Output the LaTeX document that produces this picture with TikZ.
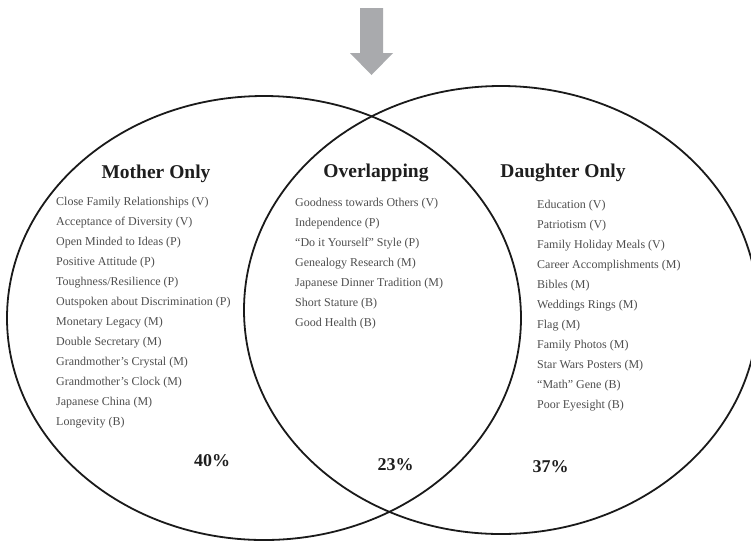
\documentclass[tikz,border=0pt]{standalone}
\usepackage{fontspec}
\setmainfont{Liberation Serif}
\usetikzlibrary{shapes.geometric}
\definecolor{linec}{HTML}{1A1A1A}
\definecolor{itemc}{HTML}{4E4E4E}
\definecolor{headc}{HTML}{1E1E1E}
\definecolor{arrowc}{HTML}{A9AAAD}
\tikzset{
  venn/.style={ellipse, draw=linec, line width=1.8pt, inner sep=0pt},
  head/.style={anchor=base, text=headc, font=\fontsize{19.5}{22}\selectfont\bfseries, inner sep=0pt},
  item/.style={anchor=base west, text=itemc, font=\fontsize{12}{14}\selectfont, inner sep=0pt},
  pct/.style={anchor=base, text=headc, font=\fontsize{18}{20}\selectfont\bfseries, inner sep=0pt}
}
\begin{document}
\begin{tikzpicture}[x=1pt,y=-1pt]
\clip (0,0) rectangle (751,542);
\fill[white] (0,0) rectangle (751,542);
% arrow
\fill[arrowc] (360,8) -- (383,8) -- (383,53) -- (393,53) -- (371.5,75) -- (350,53) -- (360,53) -- cycle;
% ellipses
\node[venn, minimum width=514pt, minimum height=444pt] (mom) at (264,318) {};
\node[venn, minimum width=514pt, minimum height=448pt] (dau) at (501,310) {};
% headers
\node[head] (hm) at (156,178) {Mother Only};
\node[head] (ho) at (376,177) {Overlapping};
\node[head] (hd) at (563,177) {Daughter Only};
% mother items
\foreach \t [count=\i] in {Close Family Relationships (V),Acceptance of Diversity (V),Open Minded to Ideas (P),Positive Attitude (P),Toughness/Resilience (P),Outspoken about Discrimination (P),Monetary Legacy (M),Double Secretary (M),Grandmother’s Crystal (M),Grandmother’s Clock (M),Japanese China (M),Longevity (B)}
  \node[item] (m\i) at (56,{205+20*(\i-1)}) {\t};
% overlap items
\foreach \t [count=\i] in {Goodness towards Others (V),Independence (P),“Do it Yourself” Style (P),Genealogy Research (M),Japanese Dinner Tradition (M),Short Stature (B),Good Health (B)}
  \node[item] (o\i) at (295,{206.5+20*(\i-1)}) {\t};
% daughter items
\foreach \t [count=\i] in {Education (V),Patriotism (V),Family Holiday Meals (V),Career Accomplishments (M),Bibles (M),Weddings Rings (M),Flag (M),Family Photos (M),Star Wars Posters (M),“Math” Gene (B),Poor Eyesight (B)}
  \node[item] (d\i) at (537,{208.5+20*(\i-1)}) {\t};
% percentages
\node[pct] (p1) at (212,466) {40\%};
\node[pct] (p2) at (395.5,470) {23\%};
\node[pct] (p3) at (550.5,472.5) {37\%};
\end{tikzpicture}
\end{document}
